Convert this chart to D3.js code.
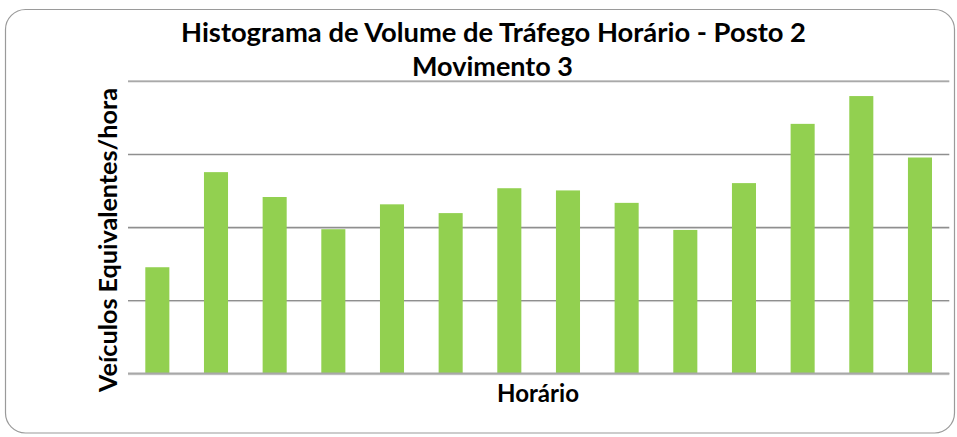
<!DOCTYPE html>
<html>
<head>
<meta charset="utf-8">
<script src="https://cdn.jsdelivr.net/npm/d3@7/dist/d3.min.js"></script>
<style>
  html, body { margin: 0; padding: 0; background: #fff; }
  svg { display: block; }
  text { font-family: Lato, "Open Sans", sans-serif; font-weight: bold; fill: #000; }
</style>
</head>
<body>
<svg id="chart" width="957" height="437"></svg>
<script>
// Hourly traffic volume, equivalent vehicles per hour, one bar per hour slot
const hours = ["1", "2", "3", "4", "5", "6", "7", "8", "9", "10", "11", "12", "13", "14"];
const volumes = [145, 275, 241, 197, 231, 219, 253, 250, 233, 196, 260, 341, 379, 295];
const yTicks = [0, 100, 200, 300, 400];

const titleLines = ["Histograma de Volume de Tráfego Horário - Posto 2", "Movimento 3"];
const xTitle = "Horário";
const yTitle = "Veículos Equivalentes/hora";

const svg = d3.select("#chart");
const W = 957, H = 437;
const margin = { top: 80.7, right: 7.7, bottom: 63.7, left: 128 };
const plotW = W - margin.left - margin.right;
const plotH = H - margin.top - margin.bottom;

// Chart frame with rounded corners
svg.append("rect")
  .attr("x", 5.5).attr("y", 9.5)
  .attr("width", 949).attr("height", 423.5)
  .attr("rx", 20).attr("ry", 20)
  .attr("fill", "#fff")
  .attr("stroke", "#9a9a9a")
  .attr("stroke-width", 1.2);

const g = svg.append("g").attr("transform", `translate(${margin.left},${margin.top})`);

const x = d3.scaleBand()
  .domain(hours)
  .range([0, plotW])
  .paddingInner(0.59)
  .paddingOuter(0.295);

const y = d3.scaleLinear()
  .domain([0, 400])
  .range([plotH, 0]);

// Horizontal gridlines (no tick labels)
const yAxis = d3.axisLeft(y).tickValues(yTicks).tickSize(-plotW).tickFormat("");
const ga = g.append("g").call(yAxis);
ga.select(".domain").remove();
ga.selectAll(".tick line")
  .attr("stroke", "#8f8f8f")
  .attr("stroke-width", 1.3);
// soft halo under each gridline
ga.selectAll(".tick").insert("line", ":first-child")
  .attr("x1", 0).attr("x2", plotW)
  .attr("y1", 1).attr("y2", 1)
  .attr("stroke", "#dedede").attr("stroke-width", 1);

// Bars
g.selectAll(".bar")
  .data(volumes)
  .join("rect")
  .attr("class", "bar")
  .attr("x", (d, i) => x(hours[i]))
  .attr("y", d => y(d))
  .attr("width", x.bandwidth())
  .attr("height", d => plotH - y(d))
  .attr("fill", "#92D050");

// Bottom axis line
g.append("line")
  .attr("x1", 0).attr("x2", plotW)
  .attr("y1", plotH).attr("y2", plotH)
  .attr("stroke", "#a8a8a8").attr("stroke-width", 1.4);

// Size a text element so that it spans the given width
function fitWidth(sel, width, start) {
  sel.style("font-size", start + "px");
  const w = sel.node().getComputedTextLength();
  sel.style("font-size", (start * width / w).toFixed(2) + "px");
}

// Title
const t1 = svg.append("text")
  .attr("x", 493.5).attr("y", 41.7)
  .attr("text-anchor", "middle")
  .text(titleLines[0]);
fitWidth(t1, 625, 24);
const t2 = svg.append("text")
  .attr("x", 492.5).attr("y", 76)
  .attr("text-anchor", "middle")
  .text(titleLines[1]);
fitWidth(t2, 161, 24);

// Axis titles
const xt = svg.append("text")
  .attr("x", 538).attr("y", 402)
  .attr("text-anchor", "middle")
  .text(xTitle);
fitWidth(xt, 82, 20);

const yt = svg.append("text")
  .attr("transform", "translate(116.5,240) rotate(-90)")
  .attr("text-anchor", "middle")
  .text(yTitle);
fitWidth(yt, 304, 20);
</script>
</body>
</html>
